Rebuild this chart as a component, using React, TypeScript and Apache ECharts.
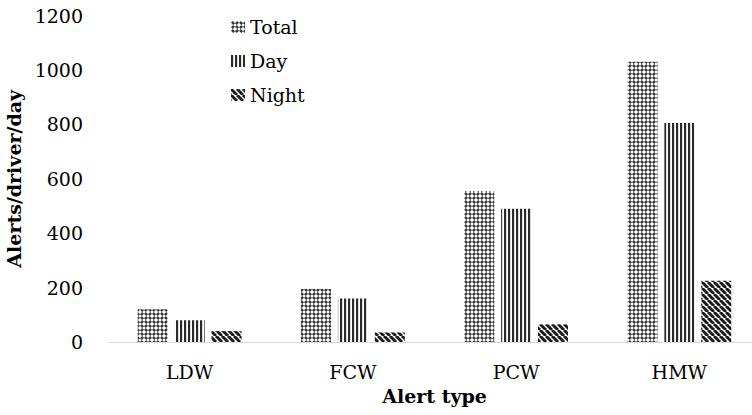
import React, { useEffect, useRef } from "react";
import * as echarts from "echarts";

// Alert counts per driver per day, by alert type
const categories = ["LDW", "FCW", "PCW", "HMW"];
const totalValues = [120, 195, 555, 1030];
const dayValues = [80, 160, 490, 805];
const nightValues = [40, 35, 65, 225];
const seriesNames = ["Total", "Day", "Night"];
const yMin = 0;
const yMax = 1200;
const yStep = 200;

const FONT = "'DejaVu Serif', 'Liberation Serif', serif";

type Painter = (ctx: CanvasRenderingContext2D, w: number, h: number) => void;

function makePattern(w: number, h: number, paint: Painter) {
  const c = document.createElement("canvas");
  c.width = w;
  c.height = h;
  const ctx = c.getContext("2d") as CanvasRenderingContext2D;
  ctx.fillStyle = "#ffffff";
  ctx.fillRect(0, 0, w, h);
  paint(ctx, w, h);
  return {
    image: c.toDataURL(),
    repeat: "repeat",
    imageWidth: w,
    imageHeight: h,
  } as any;
}

// lattice of dark diagonal crossings with light holes
const latticeFill = () =>
  makePattern(8, 8, (ctx, w, h) => {
    ctx.strokeStyle = "#353535";
    ctx.lineWidth = 2.6;
    for (let k = -1; k <= 1; k++) {
      ctx.beginPath();
      ctx.moveTo(k * w, 0);
      ctx.lineTo(k * w + w, h);
      ctx.stroke();
      ctx.beginPath();
      ctx.moveTo(k * w + w, 0);
      ctx.lineTo(k * w, h);
      ctx.stroke();
    }
    ctx.fillStyle = "#ffffff";
    const holes = [
      [0, 0],
      [w, 0],
      [0, h],
      [w, h],
      [w / 2, h / 2],
    ];
    holes.forEach(([x, y]) => {
      ctx.beginPath();
      ctx.arc(x, y, 1.5, 0, Math.PI * 2);
      ctx.fill();
    });
  });

// vertical stripes
const stripeFill = () =>
  makePattern(4, 4, (ctx) => {
    ctx.fillStyle = "#2a2a2a";
    ctx.fillRect(0, 0, 2, 4);
    ctx.fillStyle = "#c8c8c8";
    ctx.fillRect(2, 0, 0.6, 4);
  });

// diagonal stripes running down to the right
const diagFill = () =>
  makePattern(6, 6, (ctx, w, h) => {
    ctx.strokeStyle = "#1a1a1a";
    ctx.lineWidth = 3;
    for (let k = -1; k <= 1; k++) {
      ctx.beginPath();
      ctx.moveTo(k * w, 0);
      ctx.lineTo(k * w + w, h);
      ctx.stroke();
    }
  });

export default function App() {
  const ref = useRef<HTMLDivElement>(null);

  useEffect(() => {
    document.body.style.margin = "0";
    if (!ref.current) return;
    const chart = echarts.init(ref.current, undefined, { renderer: "svg" });

    const fills = [latticeFill(), stripeFill(), diagFill()];
    const values = [totalValues, dayValues, nightValues];

    chart.setOption({
      animation: false,
      backgroundColor: "#ffffff",
      textStyle: { fontFamily: FONT },
      grid: {
        left: 108,
        right: -9,
        top: 15.6,
        bottom: 73,
        containLabel: false,
        outerBoundsMode: "none",
      },
      legend: {
        orient: "vertical",
        left: 231,
        top: 17,
        padding: 0,
        itemWidth: 14,
        itemHeight: 12,
        itemGap: 14,
        icon: "rect",
        data: seriesNames,
        textStyle: {
          fontFamily: FONT,
          fontSize: 19,
          lineHeight: 20,
          color: "#000000",
        },
      },
      xAxis: {
        type: "category",
        data: categories,
        name: "Alert type",
        nameLocation: "middle",
        nameGap: 44,
        nameTextStyle: {
          fontFamily: FONT,
          fontSize: 19,
          fontWeight: "bold",
          color: "#000000",
        },
        axisLine: { lineStyle: { color: "#d9d9d9", width: 1 } },
        axisTick: { show: false },
        axisLabel: {
          margin: 20,
          fontFamily: FONT,
          fontSize: 19,
          color: "#000000",
        },
      },
      yAxis: {
        type: "value",
        min: yMin,
        max: yMax,
        interval: yStep,
        name: "Alerts/driver/day",
        nameLocation: "middle",
        nameGap: 80,
        nameTextStyle: {
          fontFamily: FONT,
          fontSize: 19,
          fontWeight: "bold",
          color: "#000000",
        },
        axisLine: { show: false },
        axisTick: { show: false },
        splitLine: { show: false },
        axisLabel: {
          margin: 25,
          fontFamily: FONT,
          fontSize: 19,
          color: "#000000",
          formatter: (v: number) => String(v),
        },
      },
      series: seriesNames.map((name, i) => ({
        name,
        type: "bar",
        data: values[i],
        barWidth: 30,
        barGap: "23%",
        itemStyle: { color: fills[i] },
      })),
    });

    return () => chart.dispose();
  }, []);

  return <div ref={ref} style={{ width: 752, height: 415 }} />;
}
